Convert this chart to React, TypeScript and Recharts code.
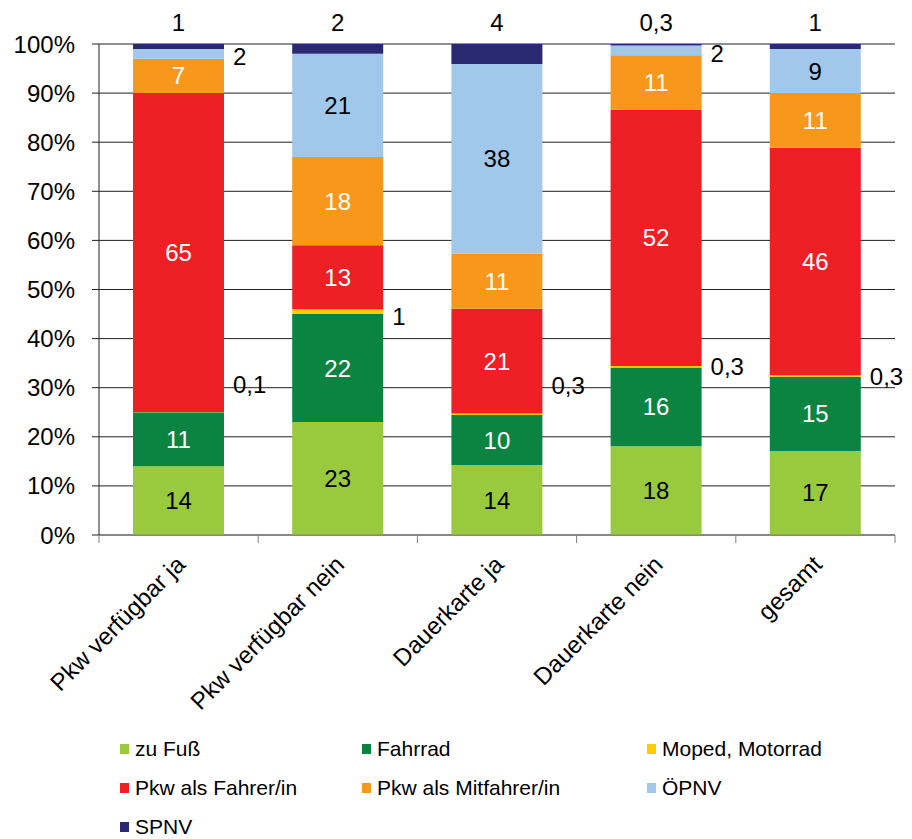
import React from "react";
import { BarChart, Bar, XAxis, YAxis, CartesianGrid, LabelList } from "recharts";

// Modal split by group, values in percent
const categories = ["Pkw verfügbar ja", "Pkw verfügbar nein", "Dauerkarte ja", "Dauerkarte nein", "gesamt"];
const zuFuss = [14, 23, 14, 18, 17];
const fahrrad = [11, 22, 10, 16, 15];
const moped = [0.1, 1, 0.3, 0.3, 0.3];
const pkwFahrer = [65, 13, 21, 52, 46];
const pkwMitfahrer = [7, 18, 11, 11, 11];
const oepnv = [2, 21, 38, 2, 9];
const spnv = [1, 2, 4, 0.3, 1];
const yTicks = [0, 0.1, 0.2, 0.3, 0.4, 0.5, 0.6, 0.7, 0.8, 0.9, 1];

const FONT = '"Liberation Sans", Arial, sans-serif';
const W = 904;
const H = 831;
const MARGIN = { top: 36, right: 17, left: 0, bottom: 0 };
const Y_AXIS_W = 91;
const BAND = (W - MARGIN.right - Y_AXIS_W) / categories.length;

// hand-placed vertical nudges for the small moped labels
const mopedNudge = [-28, 5, -29, 0, 0];

const series = [
  { key: "zuFuss", name: "zu Fuß", values: zuFuss, color: "#99C93C", label: "in-dark" },
  { key: "fahrrad", name: "Fahrrad", values: fahrrad, color: "#0C8441", label: "in-light" },
  { key: "moped", name: "Moped, Motorrad", values: moped, color: "#FFCC00", label: "right" },
  { key: "pkwFahrer", name: "Pkw als Fahrer/in", values: pkwFahrer, color: "#EE1F25", label: "in-light" },
  { key: "pkwMitfahrer", name: "Pkw als Mitfahrer/in", values: pkwMitfahrer, color: "#F7981D", label: "in-light" },
  { key: "oepnv", name: "ÖPNV", values: oepnv, color: "#A1C8EA", label: "in-dark" },
  { key: "spnv", name: "SPNV", values: spnv, color: "#2A2A72", label: "top" },
];

const rows = categories.map((name, i) => {
  const row: any = { name };
  series.forEach(s => { row[s.key] = s.values[i]; });
  return row;
});

const fmt = (v: number) => String(v).replace(".", ",");

const makeLabel = (s: any) => (p: any) => {
  const { x, y, width, height, index } = p;
  const v = s.values[index];
  if (v === undefined) return null;
  const txt = fmt(v);
  const base = { fontFamily: FONT, fontSize: 24, dominantBaseline: "central" as const };
  if (s.label === "top") {
    return <text {...base} x={x + width / 2} y={y - 22} textAnchor="middle" fill="#000">{txt}</text>;
  }
  if (s.label === "right" || (s.key === "oepnv" && v < 5)) {
    const nudge = s.label === "right" ? mopedNudge[index] : 3;
    return <text {...base} x={x + width + 9} y={y + height / 2 + nudge} textAnchor="start" fill="#000">{txt}</text>;
  }
  return (
    <text {...base} x={x + width / 2} y={y + height / 2} textAnchor="middle" fill={s.label === "in-light" ? "#fff" : "#000"}>
      {txt}
    </text>
  );
};

const XTick = (p: any) => {
  const { x, y, payload, index } = p;
  const left = x - BAND / 2;
  const ax = x + 8;
  const ay = y + 31;
  return (
    <g>
      <line x1={left} y1={y} x2={left} y2={y + 8} stroke="#7f7f7f" />
      {index === categories.length - 1 && <line x1={x + BAND / 2} y1={y} x2={x + BAND / 2} y2={y + 8} stroke="#7f7f7f" />}
      <text
        x={ax}
        y={ay}
        transform={`rotate(-45, ${ax}, ${ay})`}
        textAnchor="end"
        fontFamily={FONT}
        fontSize={24}
        fill="#000"
      >
        {payload.value}
      </text>
    </g>
  );
};

const legendCols = [112, 354, 639];

export default function App() {
  return (
    <div style={{ position: "relative", width: W, height: H }}>
      <BarChart width={W} height={H} data={rows} margin={MARGIN} stackOffset="expand" barSize={91}>
        <CartesianGrid horizontal vertical={false} stroke="#222" />
        <XAxis
          dataKey="name"
          height={304}
          interval={0}
          tickLine={false}
          tickSize={0}
          tickMargin={0}
          axisLine={{ stroke: "#7f7f7f" }}
          tick={<XTick />}
        />
        <YAxis
          width={Y_AXIS_W}
          domain={[0, 1]}
          ticks={yTicks}
          interval={0}
          tickSize={7}
          tickMargin={17}
          axisLine={{ stroke: "#222" }}
          tickLine={{ stroke: "#222" }}
          tickFormatter={(v: number) => `${Math.round(v * 100)}%`}
          tick={{ fontFamily: FONT, fontSize: 24, fill: "#000" }}
        />
        {series.map(s => (
          <Bar key={s.key} dataKey={s.key} name={s.name} stackId="a" fill={s.color} isAnimationActive={false}>
            <LabelList dataKey={s.key} content={makeLabel(s)} />
          </Bar>
        ))}
      </BarChart>
      {series.map((s, i) => (
        <div
          key={s.key}
          style={{
            position: "absolute",
            left: legendCols[i % 3],
            top: 729 + Math.floor(i / 3) * 39,
            display: "flex",
            alignItems: "center",
            fontFamily: FONT,
            fontSize: 21,
            color: "#000",
            whiteSpace: "nowrap",
          }}
        >
          <span style={{ display: "inline-block", width: 9, height: 10, background: s.color, marginRight: 6 }} />
          {s.name}
        </div>
      ))}
    </div>
  );
}
